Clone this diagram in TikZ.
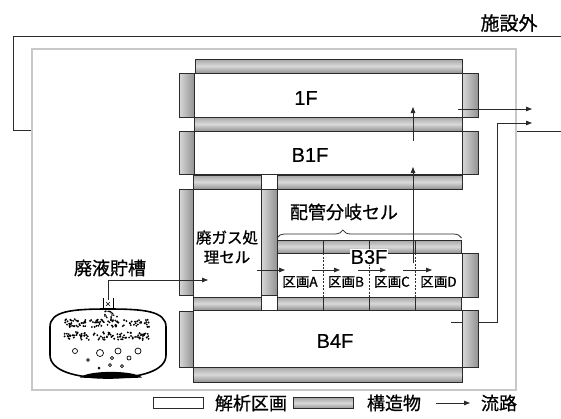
\documentclass[tikz,border=0pt]{standalone}
\usepackage{fontspec}
\setmainfont{Noto Sans CJK JP}[FakeBold=0.8]
\newfontfamily\latin{Liberation Sans}[FakeBold=0.6]
\usetikzlibrary{arrows.meta,decorations.pathreplacing}
\definecolor{inkline}{HTML}{2B2B2B}
\definecolor{siteframe}{HTML}{C8C8C8}
\tikzset{
  room/.style={draw=inkline, fill=white, line width=0.8pt, inner sep=0pt, outer sep=0pt},
  slab/.style={draw=inkline, line width=0.7pt, inner sep=0pt, outer sep=0pt,
    top color=gray!70, bottom color=gray!85, middle color=gray!30},
  wall/.style={draw=inkline, line width=0.7pt, inner sep=0pt, outer sep=0pt,
    left color=gray!30, right color=gray!85},
  flow/.style={draw=inkline, line width=0.8pt, -{Triangle[length=6pt,width=4.5pt]}},
  divider/.style={draw=inkline, line width=0.6pt, dash pattern=on 2pt off 1.5pt},
  floorlbl/.style={font=\latin\fontsize{20}{22}\selectfont, inner sep=1pt},
  celllbl/.style={font=\fontsize{13.5}{15}\selectfont, inner sep=0pt},
  jplbl/.style={font=\fontsize{18}{20}\selectfont, inner sep=0pt}
}
\begin{document}
\begin{tikzpicture}[x=1pt,y=-1pt]
  \useasboundingbox (0,0) rectangle (561,418);

  % site boundary and building frame
  \draw[inkline, line width=0.8pt] (561,36) -- (13.5,36) -- (13.5,130) -- (32,130);
  \draw[inkline, line width=0.8pt] (517,131) -- (561,131);
  \node[draw=siteframe, line width=2.5pt, minimum width=484pt, minimum height=341pt, inner sep=0pt] (site) at (274,219.5) {};
  \node[jplbl, font=\fontsize{19}{21}\selectfont] (outside) at (509,23) {施設外};

  % rooms (analysis compartments)
  \node[room, minimum width=268pt, minimum height=44pt] (r1F) at (328,95) {};
  \node[room, minimum width=268pt, minimum height=43pt] (rB1F) at (328,152.5) {};
  \node[room, minimum width=68pt, minimum height=108pt] (rgas) at (227,243) {};
  \node[room, minimum width=185pt, minimum height=44pt] (rB3F) at (369.5,275) {};
  \node[room, minimum width=269pt, minimum height=57pt] (rB4F) at (327.5,338.5) {};

  % floor slabs
  \node[slab, minimum width=267pt, minimum height=14pt] (s1Ftop) at (328.5,66) {};
  \node[slab, minimum width=268pt, minimum height=14pt] (s1Fbot) at (328,124) {};
  \node[slab, minimum width=68pt, minimum height=14pt] (sgastop) at (227,182) {};
  \node[slab, minimum width=185pt, minimum height=14pt] (sB1Fbot) at (369.5,182) {};
  \foreach \cx [count=\k] in {300,346,392,438.5}{
    \node[slab, minimum width=46pt, minimum height=13pt] (b3top\k) at (\cx,246.5) {};
    \node[slab, minimum width=46pt, minimum height=13pt] (b3bot\k) at (\cx,303.5) {};
  }
  \node[slab, minimum width=68pt, minimum height=13pt] (sgasbot) at (227,303.5) {};
  \node[slab, minimum width=269pt, minimum height=15pt] (sB4Fbot) at (327.5,374.5) {};

  % walls
  \node[wall, minimum width=15pt, minimum height=44pt] (w1FL) at (186.5,95) {};
  \node[wall, minimum width=16pt, minimum height=44pt] (w1FR) at (470,95) {};
  \node[wall, minimum width=15pt, minimum height=43pt] (wB1FL) at (186.5,152.5) {};
  \node[wall, minimum width=16pt, minimum height=43pt] (wB1FR) at (470,152.5) {};
  \node[wall, minimum width=14pt, minimum height=106pt] (wgasL) at (186,242) {};
  \node[wall, minimum width=16pt, minimum height=106pt] (wgasR) at (269,242) {};
  \node[wall, minimum width=16pt, minimum height=44pt] (wB3FR) at (470,275) {};
  \node[wall, minimum width=14pt, minimum height=56pt] (wB4FL) at (186,339) {};

  % compartment dividers in B3F
  \foreach \k in {1,2,3}{
    \draw[divider] (b3top\k.south east) -- (b3bot\k.north east);
  }

  % labels
  \node[floorlbl] (l1F) at (306,98) {1F};
  \node[floorlbl] (lB1F) at (310,155) {B1F};
  \node[floorlbl, fill=white] (lB3F) at (369,257) {B3F};
  \node[floorlbl] (lB4F) at (335,341) {B4F};
  \node[jplbl, align=center, font=\fontsize{15.5}{19.5}\selectfont] (lgas) at (227,247) {廃ガス処\\理セル};
  \node[jplbl] (lbranch) at (344,212) {配管分岐セル};
  \node[jplbl] (ltank) at (110,268) {廃液貯槽};
  \foreach \cx/\t in {300/A,346/B,392/C,438.5/D}{
    \node[celllbl] (zone\t) at (\cx,282) {区画\t};
  }
  \draw[inkline, line width=0.8pt, decorate, decoration={brace, amplitude=8pt, aspect=0.357}]
    ([yshift=2pt]b3top1.north west) -- ([yshift=2pt]b3top4.north east);

  % waste liquid tank
  \draw[black, line width=1.6pt, fill=white]
    (50,355) -- (50,327) .. controls (50,311) and (72,309) .. (108,309)
    .. controls (144,309) and (166,311) .. (166,327) -- (166,355)
    .. controls (166,371) and (140,378) .. (108,378)
    .. controls (76,378) and (50,371) .. (50,355) -- cycle;
  \fill[black] (80,377.5) .. controls (88,370) and (134,370) .. (142,377.5)
    .. controls (128,378.5) and (94,378.5) .. cycle;
  \draw[black, line width=0.8pt] (103,298) -- (103,309) (113,298) -- (113,309);
  \draw[black, line width=0.5pt] (106,302) -- (110,306) (110,302) -- (106,306);
  % spray droplets
  \pgfmathsetseed{42}
  \foreach \i in {1,...,100}{
    \pgfmathsetmacro\px{64+85*rnd}
    \pgfmathsetmacro\py{319+8*rnd}
    \fill (\px,\py) circle (1.05);
  }
  \foreach \i in {1,...,100}{
    \pgfmathsetmacro\px{64+85*rnd}
    \pgfmathsetmacro\py{332+8*rnd}
    \fill (\px,\py) circle (1.05);
  }
  \foreach \i in {1,...,16}{
    \pgfmathsetmacro\py{311+7*rnd}
    \pgfmathsetmacro\px{108+(\py-309)*1.2*rand}
    \fill (\px,\py) circle (0.9);
  }
  % bubbles
  \foreach \bx/\by/\br in {75/351/2.5,100/353/3.5,118/351/3,138/351/3,
      88/360/1.4,112/358/1.6,129/358/2,99/368/1,110/365/1.5,122/366/1.5}{
    \draw[black, line width=0.7pt] (\bx,\by) circle (\br);
  }

  % flow paths
  \coordinate (tankneck) at (108,300);
  \coordinate (gasin) at (208,280);
  \draw[flow] (tankneck) |- (gasin);
  \coordinate (gasout) at (257,270);
  \coordinate (zoneAin) at (285,270);
  \draw[flow] (gasout) -- (zoneAin);
  \foreach \xa/\xb [count=\k] in {312/340,358/386,403/432}{
    \coordinate (fa\k) at (\xa,270);
    \coordinate (fb\k) at (\xb,270);
    \draw[flow] (fa\k) -- (fb\k);
  }
  \coordinate (riseA) at (413,263);
  \coordinate (riseB) at (413,167);
  \draw[flow] (riseA) -- (riseB);
  \coordinate (riseC) at (413,141);
  \coordinate (riseD) at (413,107);
  \draw[flow] (riseC) -- (riseD);
  \coordinate (exitA) at (458,109);
  \coordinate (exitB) at (532,109);
  \draw[flow] (exitA) -- (exitB);
  \coordinate (b4out) at (451,322);
  \coordinate (riser) at (497,123);
  \coordinate (exitC) at (532,123);
  \draw[flow] (b4out) -| (riser) -- (exitC);
  % B4F right wall sits over the outlet pipe
  \node[wall, minimum width=16pt, minimum height=57pt] (wB4FR) at (470,338.5) {};

  % legend
  \node[room, minimum width=50pt, minimum height=11pt] (keyroom) at (178,403) {};
  \node[jplbl] (keyroomtxt) at (251,403) {解析区画};
  \node[slab, minimum width=60pt, minimum height=11pt] (keyslab) at (323,403) {};
  \node[jplbl] (keyslabtxt) at (394,403) {構造物};
  \coordinate (keyflowA) at (436,403);
  \coordinate (keyflowB) at (470,403);
  \draw[flow] (keyflowA) -- (keyflowB);
  \node[jplbl] (keyflowtxt) at (499,403) {流路};
\end{tikzpicture}
\end{document}
